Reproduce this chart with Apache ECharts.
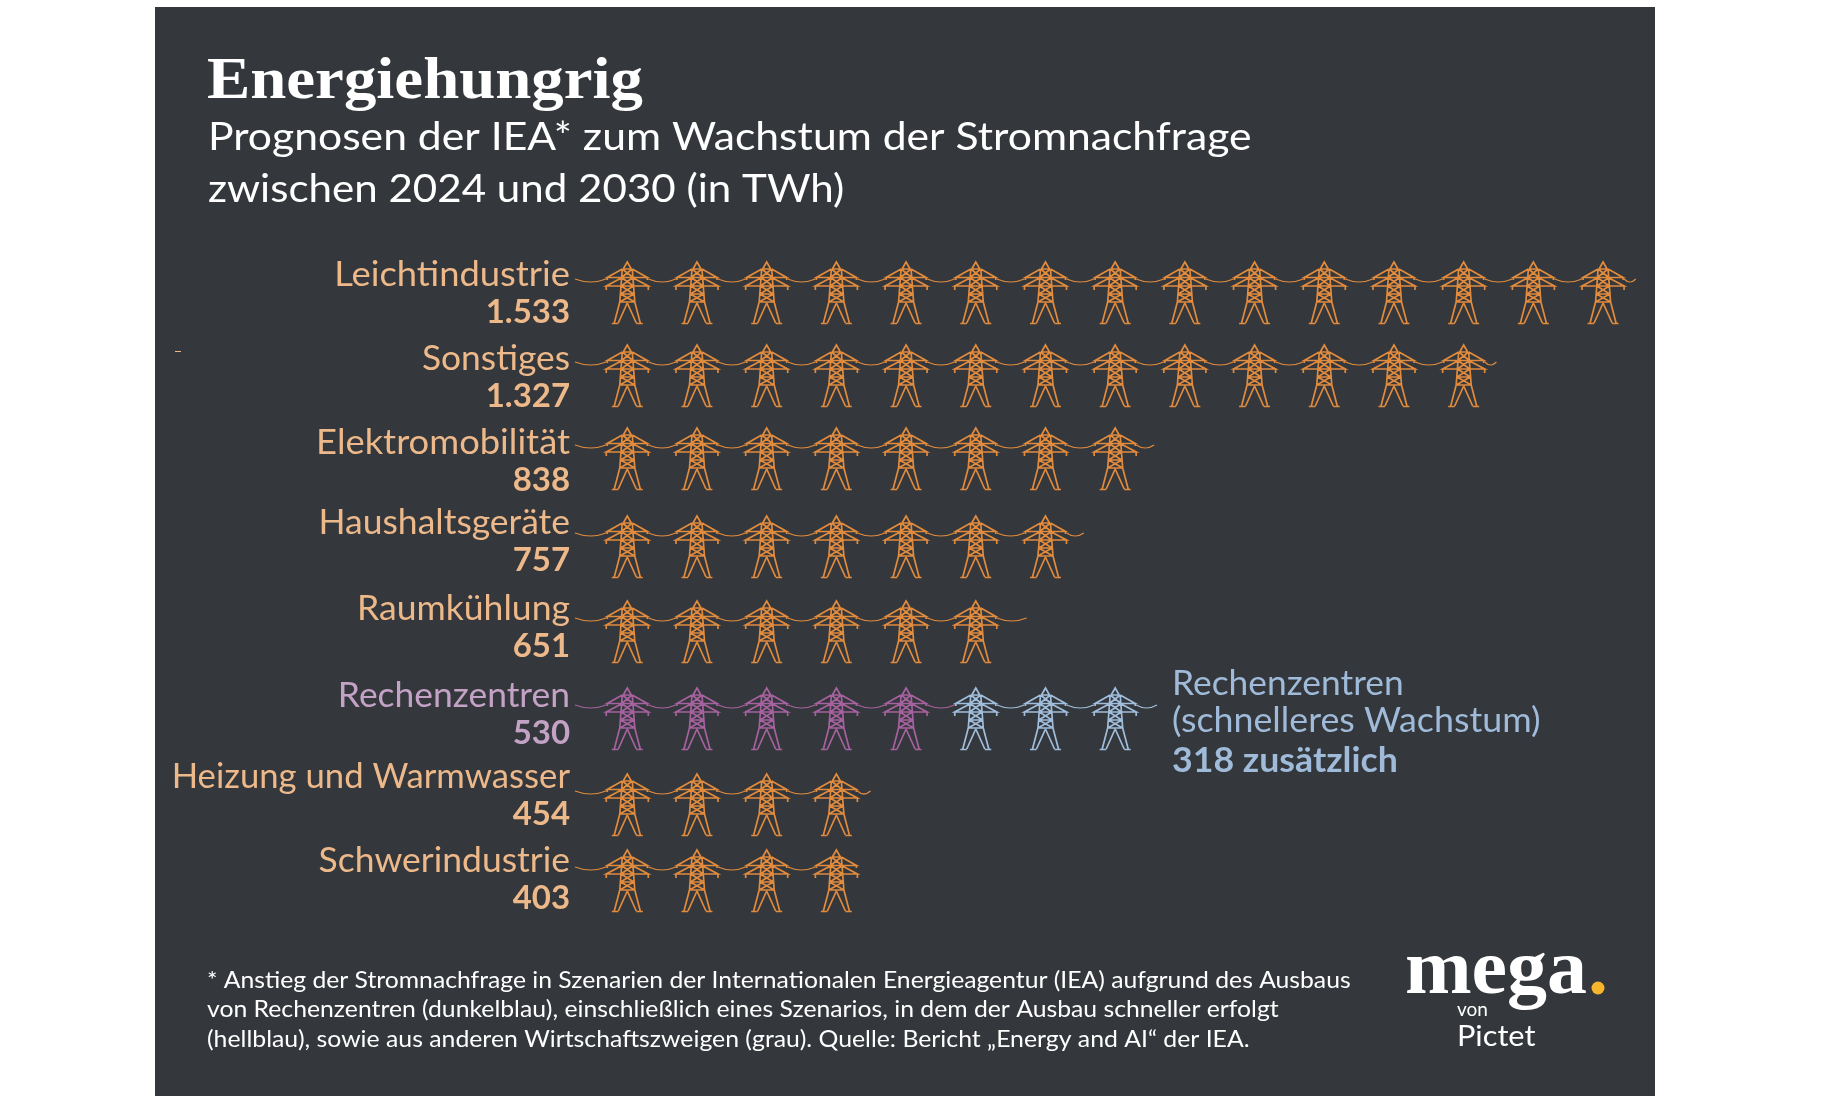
<!DOCTYPE html>
<html lang="de"><head><meta charset="utf-8"><title>Energiehungrig</title>
<script src="https://cdn.jsdelivr.net/npm/echarts@6/dist/echarts.min.js"></script>
<style>html,body{margin:0;padding:0;background:#fff}#c{width:1827px;height:1104px}</style></head>
<body><div id="c"></div>
<script>
// --- data (TWh; one pylon per full 100 TWh) ---
const categories = ['Leichtindustrie','Sonstiges','Elektromobilität','Haushaltsgeräte','Raumkühlung','Rechenzentren','Heizung und Warmwasser','Schwerindustrie'];
const valueLabels = ['1.533','1.327','838','757','651','530','454','403'];
const values = [1533,1327,838,757,651,530,454,403];
const fasterGrowthExtra = 318;
// where each power line visibly ends
const wireEnds = [1522,1322,831,730,648,545,424,400];
const fasterWireEnd = 835;

const titleText = 'Energiehungrig';
const subtitleLines = ['Prognosen der IEA* zum Wachstum der Stromnachfrage','zwischen 2024 und 2030 (in TWh)'];
const noteLines = [
 '* Anstieg der Stromnachfrage in Szenarien der Internationalen Energieagentur (IEA) aufgrund des Ausbaus',
 'von Rechenzentren (dunkelblau), einschließlich eines Szenarios, in dem der Ausbau schneller erfolgt',
 '(hellblau), sowie aus anderen Wirtschaftszweigen (grau). Quelle: Bericht „Energy and AI“ der IEA.'];
const fasterLines = ['Rechenzentren','(schnelleres Wachstum)','318 zusätzlich'];

// --- layout and style ---
const BG='#34373B', ORANGE='#E08B3E', PURPLE='#A5629F', BLUE='#A0BEDC';
const T_ORANGE='#EDB98A', T_PURPLE='#C4A2C6', T_BLUE='#9FBBD9';
const SANS='Lato', SERIF='"Liberation Serif"';
const towerNudge=[0,-1,-2,2,3,6,8,0];
const labelNudge=[-6,-6,-6,-10,-8,-5,-8,-8];
const labelStretch=[1.069,1.04,1.069,1.044,1.046,1.042,1.02,1.044];
const fasterStretch=[1.04,1.053,1.05];
const subtitleStretch=[1.094,1.079];
const noteStretch=[1.074,1.076,1.078];
const NAME_SIZE=34, VALUE_SIZE=32;
const TOWER='M-4 7L0 0L4 7M-5 7L-20 15.5L20 15.5L5 7M-20 15.5L-20 18M20 15.5L20 18'+
 'M-6 16L-21 24L21 24L6 16M-21 24L-21 28M21 24L21 28'+
 'M-5 7L-7.5 40M5 7L7.5 40M-6.6 32L6.6 32M-7.5 40L7.5 40M-4.5 7L4.5 7'+
 'M-5 7L5.8 15.5M5 7L-5.8 15.5M-5.8 15.5L6.2 24M5.8 15.5L-6.2 24M-6.2 24L6.6 32M6.2 24L-6.6 32M-6.6 32L7.5 40M6.6 32L-7.5 40'+
 'M-7.5 40L-13 61M7.5 40L13 61M0 41L-9 61M0 41L9 61M-15.5 61.5L-9 61.5M9 61.5L15.5 61.5';
const baseFactor={[SANS]:0.36,[SERIF]:0.28};

function bl(text,x,y,size,fill,opt){ // baseline-positioned text element
  opt=opt||{};
  const fam=opt.family||SANS;
  return {type:'text',z2:10,x:x,y:y-size*baseFactor[fam],scaleX:opt.stretch||1,
    style:{text:text,x:0,y:0,fill:fill,align:opt.align||'left',verticalAlign:'middle',
    fontFamily:fam,fontSize:size,fontWeight:opt.weight||'normal'}};
}

const towerFirstValue=75, towerStep=100;
function renderRow(params,api){
  const row=api.value(0), firstTower=api.value(1), towerCount=api.value(2), wireStart=api.value(3), wireEnd=api.value(4);
  const color=api.value(5)===1?BLUE:(api.value(5)===2?PURPLE:ORANGE);
  const cy=api.coord([0,row])[1]+towerNudge[row];
  const top=cy-31, wy=top+17, sag=top+23;
  const ch=[];
  const X=v=>api.coord([v,row])[0];
  const TIP=21;
  let cursor=X(wireStart);
  const span=(a,b)=>{ if(b-a<1.5) return;
    ch.push({type:'bezierCurve',shape:{x1:a,y1:wy,x2:b,y2:wy,cpx1:(a+b)/2,cpy1:sag},style:{stroke:color,lineWidth:1.2,fill:null}}); };
  for(let k=0;k<towerCount;k++){
    const cx=X(towerFirstValue+towerStep*(firstTower+k));
    span(cursor,cx-TIP);
    ch.push({type:'path',x:cx,y:top,shape:{pathData:TOWER,x:-21,y:0,width:42,height:61.5},layout:'cover',style:{stroke:color,lineWidth:1.7,fill:null}});
    cursor=cx+TIP;
  }
  span(cursor,X(wireEnd));
  return {type:'group',children:ch};
}

const orangeRows=[],purpleRows=[],blueRows=[];
values.forEach((v,i)=>{
  const n=Math.floor(v/towerStep);
  const isDC=categories[i]==='Rechenzentren';
  (isDC?purpleRows:orangeRows).push([i,0,n,0,wireEnds[i],isDC?2:0]);
  if(isDC){
    const m=Math.floor((v+fasterGrowthExtra)/towerStep)-n;
    blueRows.push([i,n,m,wireEnds[i],fasterWireEnd,1]);
  }
});

function renderLabel(params,api){
  const i=api.value(0), cy=api.coord([0,i])[1], base=cy+labelNudge[i];
  const isDC=categories[i]==='Rechenzentren';
  const c=isDC?T_PURPLE:T_ORANGE, x=api.coord([0,i])[0]-5;
  return {type:'group',children:[
    bl(categories[i],x,base,NAME_SIZE,c,{align:'right',stretch:labelStretch[i]}),
    bl(valueLabels[i],x,base+37,VALUE_SIZE,c,{align:'right',weight:'bold',stretch:1.03})
  ]};
}

const chart=echarts.init(document.getElementById('c'),null,{renderer:'canvas'});
const graphics=[
 {type:'rect',z:-5,shape:{x:155,y:7,width:1500,height:1089},style:{fill:BG}},
 {type:'rect',z:1,shape:{x:175,y:351,width:6,height:1},style:{fill:T_ORANGE}},
 {type:'circle',z:5,shape:{cx:1598,cy:988,r:6.5},style:{fill:'#F7B52B'}}
];
const textEl=(t,x,y,size,fill,opt)=>{const e=bl(t,x,y,size,fill,opt);e.z=5;return e;};
subtitleLines.forEach((t,i)=>graphics.push(textEl(t,208,151+i*52,39,'#fff',{stretch:subtitleStretch[i]})));
noteLines.forEach((t,i)=>graphics.push(textEl(t,207,988.5+i*29.5,23,'#fff',{stretch:noteStretch[i]})));
fasterLines.forEach((t,i)=>graphics.push(textEl(t,1172,[696,733,773][i],NAME_SIZE,T_BLUE,{weight:i===2?'bold':'normal',stretch:fasterStretch[i]})));
graphics.push(textEl('mega',1405,995,78,'#fff',{family:SERIF,weight:'bold',stretch:1.025}));
graphics.push(textEl('von',1457,1017,19,'#fff'));
graphics.push(textEl('Pictet',1457,1047,29,'#fff',{stretch:1.06}));
graphics.push(textEl(titleText,207,99,60,'#fff',{family:SERIF,weight:'bold',stretch:1.081}));

chart.setOption({
  animation:false,
  graphic:graphics,
  grid:{left:575,top:251,width:1080,height:672},
  xAxis:{type:'value',min:0,max:1080/0.697,show:false},
  yAxis:{type:'category',data:categories,inverse:true,show:false},
  series:[
    {type:'custom',name:'Stromnachfrage',coordinateSystem:'cartesian2d',clip:false,data:orangeRows,renderItem:renderRow,encode:{x:4,y:0}},
    {type:'custom',name:'Rechenzentren',coordinateSystem:'cartesian2d',clip:false,data:purpleRows,renderItem:renderRow,encode:{x:4,y:0}},
    {type:'custom',name:'Rechenzentren (schnelleres Wachstum)',coordinateSystem:'cartesian2d',clip:false,data:blueRows,renderItem:renderRow,encode:{x:4,y:0}},
    {type:'custom',name:'Beschriftung',coordinateSystem:'cartesian2d',clip:false,data:values.map((v,i)=>[i,v]),renderItem:renderLabel,encode:{x:1,y:0}}
  ]
});
</script></body></html>
